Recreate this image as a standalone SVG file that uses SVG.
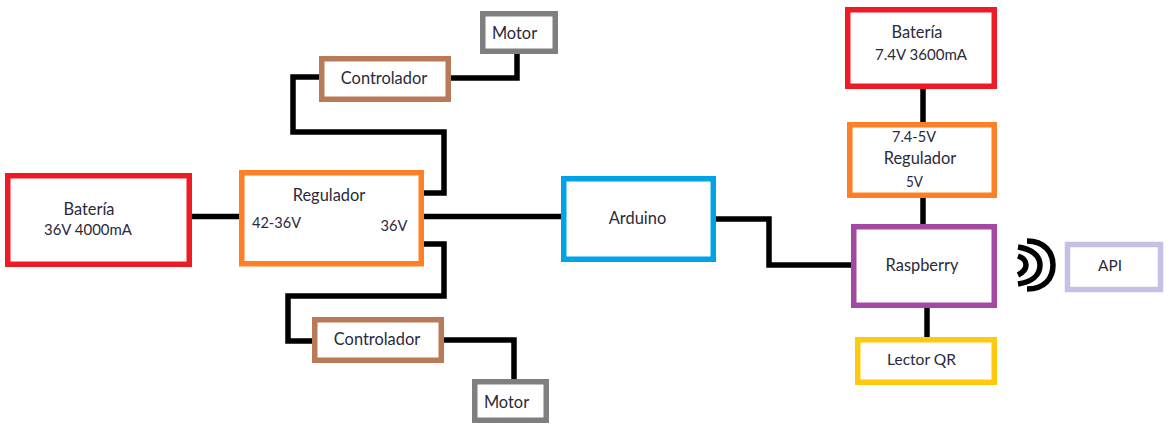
<svg xmlns="http://www.w3.org/2000/svg" width="1171" height="434" viewBox="0 0 1171 434">
<style>
.n{fill:#fff;stroke-width:5.5}
.c{fill:none;stroke:#000;stroke-width:5.5}
text{font-family:"Lato","Open Sans",sans-serif;font-size:16px;fill:#2a2a3a;text-anchor:middle}
.w{font-size:16.4px}
</style>
<rect width="1171" height="434" fill="#fff"/>
<g id="connectors" class="c">
<path d="M190 216.500H241"/>
<path d="M422 193H444V132H293V77H321"/>
<path d="M422 216.500H564"/>
<path d="M422 244H444V296H288V341H314"/>
<path d="M449 78H517V52"/>
<path d="M442 340H514V381"/>
<path d="M714 219H769V265H853"/>
<path d="M923 87V124"/>
<path d="M923 196V227"/>
<path d="M927 307V340"/>
</g>
<g id="bat1"><rect class="n" x="7.750" y="175.750" width="181.500" height="88.500" stroke="#ed1c24"/><text class="w" x="89" y="215">Batería</text><text x="88" y="235" textLength="88" lengthAdjust="spacingAndGlyphs">36V 4000mA</text></g>
<g id="reg1"><rect class="n" x="241.750" y="172.750" width="179.500" height="91" stroke="#ff7f27"/><text class="w" x="329" y="201">Regulador</text><text x="276.500" y="228" textLength="49" lengthAdjust="spacingAndGlyphs">42-36V</text><text x="394" y="231" textLength="27" lengthAdjust="spacingAndGlyphs">36V</text></g>
<g id="ctrl1"><rect class="n" x="321.750" y="58.750" width="126.500" height="40.500" stroke="#b97a57"/><text class="w" x="384" y="84">Controlador</text></g>
<g id="motor1"><rect class="n" x="482.750" y="13.750" width="72.500" height="37.500" stroke="#7f7f7f"/><text class="w" x="514.500" y="39">Motor</text></g>
<g id="ctrl2"><rect class="n" x="314.750" y="319.750" width="126.500" height="40.500" stroke="#b97a57"/><text class="w" x="377" y="345">Controlador</text></g>
<g id="motor2"><rect class="n" x="474.750" y="381.750" width="71.500" height="38.500" stroke="#7f7f7f"/><text class="w" x="506.500" y="408">Motor</text></g>
<g id="arduino"><rect class="n" x="563.750" y="178.750" width="149.500" height="80.500" stroke="#00a2e8"/><text class="w" x="637.500" y="224">Arduino</text></g>
<g id="bat2"><rect class="n" x="847.750" y="9.750" width="146.500" height="76.500" stroke="#ed1c24"/><text class="w" x="917" y="38">Batería</text><text x="921" y="60" textLength="92" lengthAdjust="spacingAndGlyphs">7.4V 3600mA</text></g>
<g id="reg2"><rect class="n" x="849.750" y="124.750" width="144.500" height="70.500" stroke="#ff7f27"/><text x="914" y="142" textLength="44" lengthAdjust="spacingAndGlyphs">7.4-5V</text><text class="w" x="920" y="164">Regulador</text><text x="914.500" y="187" textLength="17" lengthAdjust="spacingAndGlyphs">5V</text></g>
<g id="raspberry"><rect class="n" x="853.750" y="226.750" width="140.500" height="78.500" stroke="#a349a4"/><text class="w" x="922" y="271">Raspberry</text></g>
<g id="lector"><rect class="n" x="857.750" y="339.750" width="136.500" height="42.500" stroke="#ffc90e"/><text x="921.500" y="365" textLength="69" lengthAdjust="spacingAndGlyphs">Lector QR</text></g>
<g id="wifi" fill="none" stroke="#000" stroke-width="5.500"><path d="M1027 241C1045 241 1053 253 1053 265C1053 278 1045 289 1027 289"/><path d="M1018 247C1032 249 1040 256 1040 265C1040 275 1032 282 1018 284"/><path d="M1018 256C1024 258 1026 262 1026 265C1026 269 1024 272 1018 275"/></g>
<g id="api"><rect class="n" x="1067.500" y="244.500" width="93" height="45" stroke="#c8bfe7"/><text x="1110" y="271" textLength="24" lengthAdjust="spacingAndGlyphs">API</text></g>
</svg>
